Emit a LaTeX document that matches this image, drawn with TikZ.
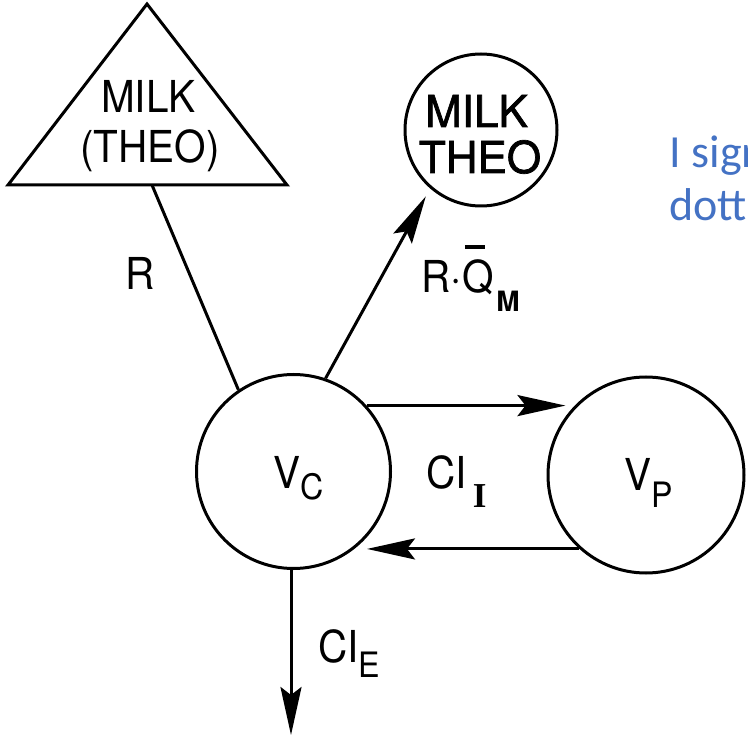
\documentclass[tikz,border=0pt]{standalone}
\usepackage{fontspec}
\newfontfamily\dia[FakeStretch=0.92]{TeX Gyre Heros}
\newfontfamily\diam[FakeBold=1.6]{TeX Gyre Heros}
\newfontfamily\diab{TeX Gyre Heros}
\newfontfamily\serifI{Liberation Serif}
\newfontfamily\blu{Carlito}
\usetikzlibrary{arrows.meta,calc}
\definecolor{pptblue}{RGB}{68,114,196}
\newcommand\subl[2]{\raisebox{#1}{\fontsize{35}{35}\selectfont #2}}
\begin{document}
\begin{tikzpicture}[x=1pt,y=-1pt,
  line width=3pt,
  txt/.style={font=\dia\fontsize{44}{52}\selectfont, inner sep=0pt},
  txtb/.style={font=\diam\fontsize{44}{52}\selectfont, inner sep=0pt},
  comp/.style={circle, draw, inner sep=0pt},
  flow/.style={-{Stealth[length=48pt,width=21pt,inset=8pt]}},
  note/.style={font=\blu\fontsize{46}{52}\selectfont, text=pptblue, anchor=base west, inner sep=0pt}
]
\useasboundingbox (0,0) rectangle (748,738);

% triangle (milk compartment)
\coordinate (ta) at (147,4);
\coordinate (tl) at (8,185);
\coordinate (tr) at (287,185);
\coordinate (tribase) at (152,185);
\draw[line join=miter] (tl) -- (ta) -- (tr) -- cycle;
\node[txt, anchor=base] (triA) at (148.5,113) {MILK};
\node[txt, anchor=base] (triB) at (150,163) {(THEO)};

% circles
\node[comp, minimum size=194pt] (Vc) at (293.5,471.5) {};
\node[comp, minimum size=196pt] (Vp) at (646,475) {};
\node[comp, minimum size=152pt] (milk) at (481,130) {};

\node[txtb, anchor=base] (milkA) at (476.5,127) {MILK};
\node[txtb, anchor=base] (milkB) at (480,173) {THEO};

\node[txt, anchor=base west] (lVc) at (272,488) {V\subl{-12pt}{C}};
\node[txt, anchor=base west] (lVp) at (623,490) {V\subl{-17pt}{P}};

% labels
\node[txt, anchor=base] (lR) at (140,290) {R};
\node[txt, anchor=base west] (lRQ) at (420,293) {R·\hspace{1pt}\makebox[0pt][l]{\hspace{2pt}\rule[44pt]{20pt}{3.5pt}}Q\hspace{2pt}\raisebox{-19pt}{\fontsize{28}{28}\selectfont\diab\bfseries M}};
\node[txt, anchor=base west] (lCI) at (425,488) {CI\hspace{6pt}\subl{-19pt}{\serifI\bfseries I}};
\node[txt, anchor=base west] (lCE) at (317,662) {CI\subl{-15pt}{E}};

% connectors
\draw (tribase) -- (Vc.124);
\draw[flow, shorten >=9pt] (Vc.71) -- (milk.229);
\draw[flow] (Vc.42) -- ($(Vc.42 -| Vp.west)+(19,0)$);
\draw[flow] (Vp.228) -- ($(Vp.228 -| Vc.east)+(-25,0)$);
\coordinate (sink) at (291,735);
\draw[flow] (Vc.south -| sink) -- (sink);

% blue note (cut at the right edge, as in the reference)
\node[note] (note1) at (668,168) {I sign};
\node[note] (note2) at (668,221) {dott};
\end{tikzpicture}
\end{document}
